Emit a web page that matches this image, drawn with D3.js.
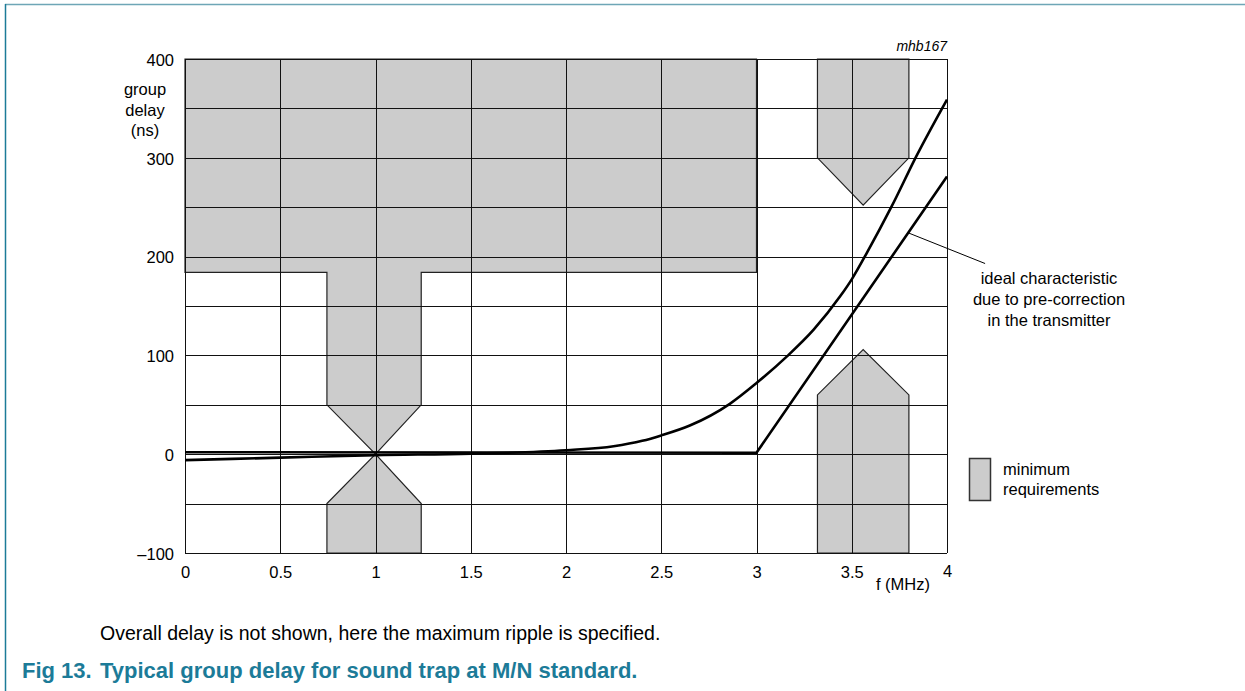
<!DOCTYPE html>
<html>
<head>
<meta charset="utf-8">
<script src="https://cdn.jsdelivr.net/npm/d3@7"></script>
<style>
  html, body { margin: 0; padding: 0; background: #fff; }
  svg { display: block; }
  text { font-family: "Liberation Sans", Arial, sans-serif; fill: #000; }
</style>
</head>
<body>
<svg id="chart" width="1245" height="691"></svg>
<script>
// ---- data ----
const xTicks = [0, 0.5, 1, 1.5, 2, 2.5, 3, 3.5, 4];
const xTickLabels = ["0", "0.5", "1", "1.5", "2", "2.5", "3", "3.5", "4"];
const yTicks = [-100, 0, 100, 200, 300, 400];
const yTickLabels = ["\u2013100", "0", "100", "200", "300", "400"];
const yGrid = [-100, -50, 0, 50, 100, 150, 200, 250, 300, 350, 400];

// measured group delay curve (f in MHz, delay in ns)
const curveF = [0, 0.5, 1, 1.5, 2, 2.25, 2.4, 2.5, 2.65, 2.86, 3.0, 3.16, 3.3, 3.44, 3.5, 3.58, 3.71, 3.84, 4.0];
const curveD = [-6, -3.5, -1, 0.5, 4, 8, 13.5, 19, 29, 51, 72, 99, 126, 160, 177, 204, 251, 302, 359];

// ideal characteristic due to pre-correction
const idealF = [0, 3, 4];
const idealD = [2, 1.5, 281];

// minimum requirement tolerance regions (polygons)
const regUpperF = [0, 3, 3, 1.24, 1.24, 1, 0.745, 0.745, 0];
const regUpperD = [400, 400, 184, 184, 50, 0, 50, 184, 184];
const regLowerF = [0.745, 0.745, 1, 1.24, 1.24];
const regLowerD = [-100, -50, 0, -50, -100];
const regRightTopF = [3.32, 3.8, 3.8, 3.56, 3.32];
const regRightTopD = [400, 400, 300, 252, 300];
const regRightBotF = [3.32, 3.32, 3.56, 3.8, 3.8];
const regRightBotD = [-100, 60, 106, 60, -100];

// annotation leader (data coordinates)
const leaderF = [3.797, 4.2];
const leaderD = [224, 193];

// ---- drawing ----
const svg = d3.select("#chart");
const x = d3.scaleLinear().domain([0, 4]).range([185, 947]);
const y = d3.scaleLinear().domain([-100, 400]).range([553, 59]);

const teal = "#1c7b98";

// outer frame
svg.append("line").attr("x1", 5).attr("x2", 1245).attr("y1", 4.5).attr("y2", 4.5)
  .attr("stroke", "#6ea6b6").attr("stroke-width", 1.5);
svg.append("line").attr("x1", 5.5).attr("x2", 5.5).attr("y1", 4).attr("y2", 691)
  .attr("stroke", teal).attr("stroke-width", 1.5);

const toPts = (fs, ds) => fs.map((f, i) => [x(f), y(ds[i])]);

// regions
const regions = [
  [regUpperF, regUpperD], [regLowerF, regLowerD],
  [regRightTopF, regRightTopD], [regRightBotF, regRightBotD]
];
svg.append("g").selectAll("polygon").data(regions).join("polygon")
  .attr("points", d => toPts(d[0], d[1]).map(p => p.join(",")).join(" "))
  .attr("fill", "#cccccc").attr("stroke", "#222").attr("stroke-width", 1.2)
  .attr("stroke-linejoin", "miter");

// grid
const grid = svg.append("g").attr("stroke", "#111").attr("stroke-width", 1).attr("shape-rendering", "crispEdges");
grid.selectAll("line.h").data(yGrid).join("line").attr("class", "h")
  .attr("x1", x(0)).attr("x2", x(4)).attr("y1", d => Math.round(y(d)) + 0.5).attr("y2", d => Math.round(y(d)) + 0.5);
grid.selectAll("line.v").data(xTicks).join("line").attr("class", "v")
  .attr("y1", y(400)).attr("y2", y(-100)).attr("x1", d => Math.round(x(d)) + 0.5).attr("x2", d => Math.round(x(d)) + 0.5);

// axes labels via d3 axes (no domain/ticks lines, only text)
const yAxis = svg.append("g").attr("transform", `translate(${x(0) - 11},0)`)
  .call(d3.axisLeft(y).tickValues(yTicks).tickSize(0).tickFormat((d, i) => yTickLabels[i]));
yAxis.select(".domain").remove();
yAxis.selectAll("text").attr("font-size", 16.5).attr("font-family", "Liberation Sans, Arial, sans-serif")
  .attr("fill", "#000").attr("dy", "0.38em").attr("x", 0);

const xAxis = svg.append("g").attr("transform", `translate(0,${y(-100) + 13})`)
  .call(d3.axisBottom(x).tickValues(xTicks).tickSize(0).tickFormat((d, i) => xTickLabels[i]));
xAxis.select(".domain").remove();
xAxis.selectAll("text").attr("font-size", 16.5).attr("font-family", "Liberation Sans, Arial, sans-serif")
  .attr("fill", "#000").attr("y", 0).attr("dy", "0.71em");
xAxis.selectAll("text").filter((d) => d === 4).attr("transform", "translate(0,-1)");

svg.append("text").attr("x", 903).attr("y", 590).attr("text-anchor", "middle")
  .attr("font-size", 16.5).text("f (MHz)");

const yTitle = svg.append("text").attr("text-anchor", "middle").attr("font-size", 16.5);
["group", "delay", "(ns)"].forEach((t, i) =>
  yTitle.append("tspan").attr("x", 145).attr("y", 95 + i * 20.5).text(t));

// curves
const line = d3.line().x(d => x(d[0])).y(d => y(d[1]));
svg.append("path").datum(curveF.map((f, i) => [f, curveD[i]]))
  .attr("d", line.curve(d3.curveMonotoneX)).attr("fill", "none").attr("stroke", "#000").attr("stroke-width", 2.6);
svg.append("path").datum(idealF.map((f, i) => [f, idealD[i]]))
  .attr("d", d3.line().x(d => x(d[0])).y(d => y(d[1]))).attr("fill", "none").attr("stroke", "#000").attr("stroke-width", 2.6);

// leader line & annotation
svg.append("line").attr("x1", x(leaderF[0])).attr("y1", y(leaderD[0]))
  .attr("x2", x(leaderF[1])).attr("y2", y(leaderD[1])).attr("stroke", "#000").attr("stroke-width", 1);
const ann = svg.append("text").attr("text-anchor", "middle").attr("font-size", 16.5);
["ideal characteristic", "due to pre-correction", "in the transmitter"].forEach((t, i) =>
  ann.append("tspan").attr("x", 1049).attr("y", 284 + i * 21).text(t));

// mhb code
svg.append("text").attr("x", 947).attr("y", 51).attr("text-anchor", "end")
  .attr("font-size", 14).attr("font-style", "italic").text("mhb167");

// legend
svg.append("rect").attr("x", 969.5).attr("y", 458.5).attr("width", 21).attr("height", 42)
  .attr("fill", "#cccccc").attr("stroke", "#333").attr("stroke-width", 1.5);
const leg = svg.append("text").attr("font-size", 16.5);
["minimum", "requirements"].forEach((t, i) =>
  leg.append("tspan").attr("x", 1003).attr("y", 475 + i * 20).text(t));

// captions
svg.append("text").attr("x", 100).attr("y", 640).attr("font-size", 19.5)
  .text("Overall delay is not shown, here the maximum ripple is specified.");
svg.append("text").attr("x", 22).attr("y", 678).attr("font-size", 22).attr("font-weight", "bold")
  .style("fill", teal).text("Fig 13.");
svg.append("text").attr("x", 100).attr("y", 678).attr("font-size", 22).attr("font-weight", "bold")
  .style("fill", teal).text("Typical group delay for sound trap at M/N standard.");
</script>
</body>
</html>
